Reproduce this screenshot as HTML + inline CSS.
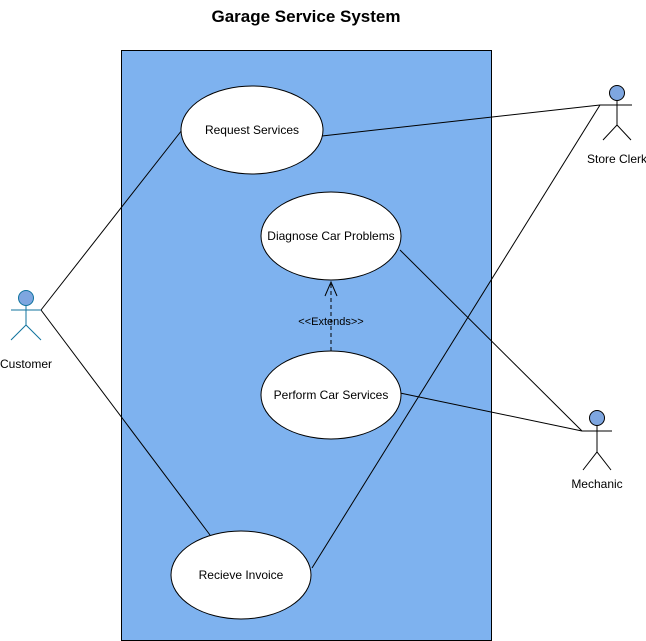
<!DOCTYPE html>
<html><head><style>body{margin:0;background:#fff}svg{display:block}text{font-family:"Liberation Sans",Arial,sans-serif}</style></head>
<body>
<svg width="646" height="641" viewBox="0 0 646 641" xmlns="http://www.w3.org/2000/svg">
<text x="306" y="22" text-anchor="middle" font-size="17" font-weight="bold">Garage Service System</text>
<rect x="121.5" y="50.5" width="370" height="590" fill="#7EB2EF" stroke="#000"/>
<g stroke="#000" fill="none">
<line x1="41" y1="310" x2="182" y2="130"/>
<line x1="41" y1="310" x2="210" y2="535"/>
<line x1="322" y1="136" x2="600" y2="105"/>
<line x1="600" y1="105" x2="312" y2="568"/>
<line x1="400" y1="250" x2="582" y2="431"/>
<line x1="400" y1="393" x2="582" y2="431"/>
<line x1="331" y1="351" x2="331" y2="283" stroke-dasharray="4 3"/>
<polyline points="325,296 331,282 337,296"/>
</g>
<g fill="#fff" stroke="#000">
<ellipse cx="252" cy="130" rx="71" ry="44"/>
<ellipse cx="331" cy="236" rx="70" ry="44"/>
<ellipse cx="331" cy="395" rx="70" ry="44"/>
<ellipse cx="241" cy="575" rx="70" ry="44"/>
</g>
<g font-size="12" text-anchor="middle">
<text x="252" y="134">Request Services</text>
<text x="331" y="240">Diagnose Car Problems</text>
<text x="331" y="399">Perform Car Services</text>
<text x="241" y="579">Recieve Invoice</text>
<text x="331" y="325" font-size="11">&lt;&lt;Extends&gt;&gt;</text>
<text x="26" y="368">Customer</text>
<text x="617" y="163">Store Clerk</text>
<text x="597" y="488">Mechanic</text>
</g>
<g stroke="#10739E" fill="none">
<circle cx="26" cy="298" r="7.5" fill="#7EA6E0"/>
<line x1="26" y1="305.5" x2="26" y2="325"/>
<line x1="11" y1="310" x2="41" y2="310"/>
<polyline points="11,340 26,325 41,340"/>
</g>
<g stroke="#000" fill="none">
<circle cx="617" cy="93" r="7.5" fill="#7EA6E0"/>
<line x1="617" y1="100.5" x2="617" y2="125"/>
<line x1="600" y1="105" x2="632" y2="105"/>
<polyline points="603,140 617,125 631,140"/>
<circle cx="597" cy="418" r="7.5" fill="#7EA6E0"/>
<line x1="597" y1="425.5" x2="597" y2="452"/>
<line x1="582" y1="431" x2="612" y2="431"/>
<polyline points="583,470 597,452 611,470"/>
</g>
</svg>
</body></html>
